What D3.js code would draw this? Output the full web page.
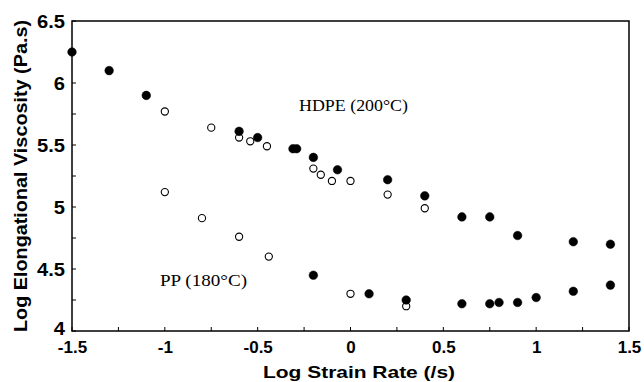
<!DOCTYPE html>
<html>
<head>
<meta charset="utf-8">
<script src="https://cdn.jsdelivr.net/npm/d3@7"></script>
<style>
  body { margin: 0; background: #fff; }
  svg { display: block; }
</style>
</head>
<body>
<div id="chart"></div>
<script>
// HDPE (200°C) 채운 원
const hdpeFilledX = [-1.5, -1.3, -1.1, -0.6, -0.5, -0.31, -0.29, -0.2, -0.07, 0.2, 0.4, 0.6, 0.75, 0.9, 1.2, 1.4]
const hdpeFilledY = [6.25, 6.10, 5.90, 5.61, 5.56, 5.47, 5.47, 5.40, 5.30, 5.22, 5.09, 4.92, 4.92, 4.77, 4.72, 4.70]
// HDPE 빈 원
const hdpeOpenX = [-1.0, -0.75, -0.6, -0.54, -0.45, -0.2, -0.16, -0.1, 0.0, 0.2, 0.4]
const hdpeOpenY = [5.77, 5.64, 5.56, 5.53, 5.49, 5.31, 5.26, 5.21, 5.21, 5.10, 4.99]
// PP (180°C) 채운 원
const ppFilledX = [-0.2, 0.1, 0.3, 0.6, 0.75, 0.8, 0.9, 1.0, 1.2, 1.4]
const ppFilledY = [4.45, 4.30, 4.25, 4.22, 4.22, 4.23, 4.23, 4.27, 4.32, 4.37]
// PP 빈 원
const ppOpenX = [-1.0, -0.8, -0.6, -0.44, 0.0, 0.3]
const ppOpenY = [5.12, 4.91, 4.76, 4.60, 4.30, 4.20]

const xTicks = [-1.5, -1, -0.5, 0, 0.5, 1, 1.5]
const yTicks = [4, 4.5, 5, 5.5, 6, 6.5]
const xTickLabels = ["-1.5", "-1", "-0.5", "0", "0.5", "1", "1.5"]
const yTickLabels = ["4", "4.5", "5", "5.5", "6", "6.5"]

const W = 644, H = 382
const margin = { top: 21, right: 15, bottom: 51, left: 72 }
const width = W - margin.left - margin.right
const height = H - margin.top - margin.bottom
const sans = "Liberation Sans, Arial, sans-serif"
const serif = "Liberation Serif, Times New Roman, serif"

const svg = d3.select("#chart").append("svg")
    .attr("width", W).attr("height", H)
const g = svg.append("g").attr("transform", `translate(${margin.left},${margin.top})`)

const xScale = d3.scaleLinear().domain([-1.5, 1.5]).range([0, width])
const yScale = d3.scaleLinear().domain([4, 6.5]).range([height, 0])

// 안쪽 눈금
const minorX = d3.range(-1.5, 1.5001, 0.25)
const minorY = d3.range(4, 6.5001, 0.25)
g.append("g").selectAll("line").data(minorY).enter().append("line")
    .attr("x1", 0).attr("x2", 4)
    .attr("y1", d => yScale(d)).attr("y2", d => yScale(d))
    .attr("stroke", "#000").attr("stroke-width", 1)
g.append("g").selectAll("line").data(minorX).enter().append("line")
    .attr("x1", d => xScale(d)).attr("x2", d => xScale(d))
    .attr("y1", height).attr("y2", height - 4)
    .attr("stroke", "#000").attr("stroke-width", 1)

// 프레임
g.append("rect").attr("x", 0).attr("y", 0).attr("width", width).attr("height", height)
    .attr("fill", "none").attr("stroke", "#000").attr("stroke-width", 1.5)

const xAxis = d3.axisBottom(xScale).tickValues(xTicks).tickSize(0).tickPadding(10)
    .tickFormat((d, i) => xTickLabels[i])
const yAxis = d3.axisLeft(yScale).tickValues(yTicks).tickSize(0).tickPadding(7)
    .tickFormat((d, i) => yTickLabels[i])

g.append("g").attr("transform", `translate(0,${height})`).call(xAxis)
    .call(a => a.select(".domain").remove())
    .selectAll("text").attr("font-family", sans)
    .attr("font-size", 17).attr("font-weight", "bold").attr("fill", "#000")
g.append("g").call(yAxis)
    .call(a => a.select(".domain").remove())
    .selectAll("text").attr("font-family", sans)
    .attr("font-size", 17.5).attr("font-weight", "bold").attr("fill", "#000")
    .attr("dy", d => d === 4 ? "0.2em" : "0.35em")  // 맨 아래 "4"는 x축 라벨과 겹치지 않게 살짝 위로
    .each(function () {
        const w = this.getComputedTextLength()
        d3.select(this).attr("textLength", w * 1.15).attr("lengthAdjust", "spacingAndGlyphs")
    })

function drawPoints(xs, ys, filled) {
    g.append("g").selectAll("circle").data(xs).enter().append("circle")
        .attr("cx", d => xScale(d))
        .attr("cy", (d, i) => yScale(ys[i]))
        .attr("r", filled ? 4.3 : 3.6)
        .attr("fill", filled ? "#000" : "#fff")
        .attr("stroke", "#000")
        .attr("stroke-width", filled ? 0.5 : 1.1)
}
drawPoints(hdpeOpenX, hdpeOpenY, false)
drawPoints(ppOpenX, ppOpenY, false)
drawPoints(hdpeFilledX, hdpeFilledY, true)
drawPoints(ppFilledX, ppFilledY, true)

// 시리즈 라벨
svg.append("text").attr("x", 299).attr("y", 111)
    .attr("font-family", serif).attr("font-size", 16.5)
    .attr("textLength", 109).attr("lengthAdjust", "spacingAndGlyphs")
    .text("HDPE (200°C)")
svg.append("text").attr("x", 160).attr("y", 286)
    .attr("font-family", serif).attr("font-size", 16.5)
    .attr("textLength", 87).attr("lengthAdjust", "spacingAndGlyphs")
    .text("PP (180°C)")

// 축 제목
svg.append("text").attr("x", 263).attr("y", 378)
    .attr("font-family", sans).attr("font-size", 16.5).attr("font-weight", "bold")
    .attr("textLength", 192).attr("lengthAdjust", "spacingAndGlyphs")
    .text("Log Strain Rate (/s)")
svg.append("text")
    .attr("transform", `translate(27,332) rotate(-90)`)
    .attr("font-family", sans).attr("font-size", 18).attr("font-weight", "bold")
    .attr("textLength", 312).attr("lengthAdjust", "spacingAndGlyphs")
    .text("Log  Elongational Viscosity (Pa.s)")
</script>
</body>
</html>
